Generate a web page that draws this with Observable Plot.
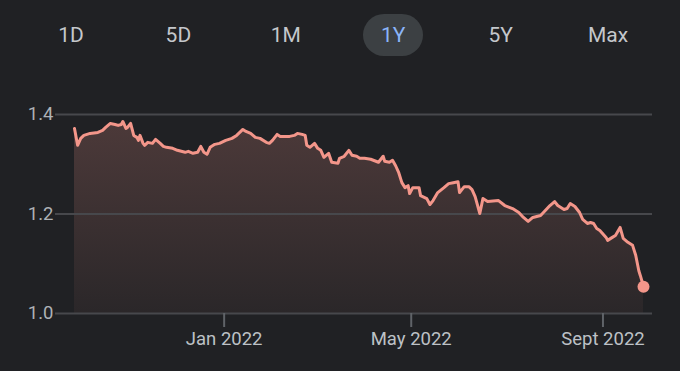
<!DOCTYPE html>
<html>
<head>
<meta charset="utf-8">
<script src="https://cdn.jsdelivr.net/npm/d3@7"></script>
<script src="https://cdn.jsdelivr.net/npm/@observablehq/plot@0.6"></script>
<style>
  html, body { margin: 0; padding: 0; background: #202124; }
  #wrap { position: relative; width: 680px; height: 371px; overflow: hidden; background: #202124; font-family: Roboto, "Noto Sans", sans-serif; }
  #buttons { position: absolute; left: 0; top: 0; width: 680px; height: 70px; z-index: 2; }
  .btn { position: absolute; top: 14px; height: 42px; width: 60px; line-height: 42px; text-align: center; font-size: 21px; color: #c4c7cb; border-radius: 21px; }
  .btn.sel { background: #3c4043; color: #8ab4f8; }
  #chart { position: absolute; left: 0; top: 0; }
</style>
</head>
<body>
<div id="wrap">
  <div id="buttons"></div>
  <div id="chart"></div>
</div>
<script>
const ranges = ["1D", "5D", "1M", "1Y", "5Y", "Max"];
const selectedRange = "1Y";

const dates = [
  "2021-09-27","2021-09-29","2021-10-01","2021-10-03","2021-10-07","2021-10-12","2021-10-15","2021-10-17",
  "2021-10-20","2021-10-23","2021-10-25","2021-10-27","2021-10-28","2021-10-30","2021-10-31","2021-11-02",
  "2021-11-04","2021-11-06","2021-11-07","2021-11-08","2021-11-10","2021-11-11","2021-11-13","2021-11-16",
  "2021-11-18","2021-11-21","2021-11-23","2021-11-25","2021-11-29","2021-12-02","2021-12-07","2021-12-09",
  "2021-12-12","2021-12-15","2021-12-17","2021-12-19","2021-12-21","2021-12-23","2021-12-26","2021-12-29",
  "2022-01-02","2022-01-06","2022-01-09","2022-01-13","2022-01-15","2022-01-18","2022-01-21","2022-01-24",
  "2022-01-28","2022-01-30","2022-02-01","2022-02-04","2022-02-06","2022-02-12","2022-02-15","2022-02-17",
  "2022-02-20","2022-02-22","2022-02-23","2022-02-25","2022-02-28","2022-03-02","2022-03-04","2022-03-06",
  "2022-03-09","2022-03-11","2022-03-15","2022-03-16","2022-03-19","2022-03-22","2022-03-24","2022-03-27",
  "2022-03-29","2022-04-01","2022-04-05","2022-04-10","2022-04-13","2022-04-14","2022-04-17","2022-04-19",
  "2022-04-21","2022-04-23","2022-04-25","2022-04-27","2022-04-29","2022-04-30","2022-05-02","2022-05-06",
  "2022-05-07","2022-05-11","2022-05-13","2022-05-15","2022-05-18","2022-05-22","2022-05-25","2022-05-28",
  "2022-05-31","2022-06-01","2022-06-04","2022-06-07","2022-06-09","2022-06-11","2022-06-14","2022-06-16",
  "2022-06-19","2022-06-26","2022-06-30","2022-07-05","2022-07-09","2022-07-12","2022-07-15","2022-07-18",
  "2022-07-23","2022-07-26","2022-07-29","2022-08-01","2022-08-03","2022-08-07","2022-08-09","2022-08-11",
  "2022-08-14","2022-08-17","2022-08-19","2022-08-22","2022-08-24","2022-08-26","2022-08-28","2022-08-30",
  "2022-09-03","2022-09-04","2022-09-07","2022-09-09","2022-09-12","2022-09-14","2022-09-17","2022-09-20",
  "2022-09-22","2022-09-24","2022-09-25","2022-09-27"
];
const values = [
  1.372,1.338,1.352,1.358,1.362,1.364,1.368,1.374,
  1.382,1.380,1.378,1.380,1.386,1.372,1.374,1.382,
  1.358,1.354,1.348,1.358,1.342,1.338,1.344,1.342,
  1.350,1.342,1.336,1.334,1.332,1.328,1.324,1.326,
  1.322,1.324,1.336,1.324,1.320,1.334,1.340,1.342,
  1.348,1.352,1.358,1.370,1.366,1.362,1.354,1.352,
  1.344,1.342,1.348,1.360,1.356,1.356,1.358,1.362,
  1.360,1.358,1.338,1.334,1.342,1.332,1.328,1.314,
  1.322,1.304,1.302,1.312,1.316,1.328,1.318,1.316,
  1.312,1.312,1.310,1.304,1.316,1.306,1.304,1.308,
  1.297,1.283,1.263,1.253,1.257,1.241,1.253,1.253,
  1.237,1.231,1.219,1.227,1.243,1.253,1.261,1.263,
  1.265,1.243,1.255,1.255,1.249,1.235,1.201,1.231,
  1.225,1.227,1.217,1.211,1.203,1.193,1.185,1.193,
  1.197,1.207,1.217,1.225,1.217,1.209,1.211,1.221,
  1.215,1.203,1.189,1.181,1.183,1.181,1.171,1.167,
  1.153,1.147,1.153,1.157,1.173,1.151,1.143,1.137,
  1.117,1.086,1.076,1.054
];
const yTicks = [1.0, 1.2, 1.4];
const xTicks = ["2022-01-01", "2022-05-01", "2022-09-01"];
const xTickLabels = ["Jan 2022", "May 2022", "Sept 2022"];

// buttons
const btnBox = document.getElementById("buttons");
ranges.forEach((r, i) => {
  const el = document.createElement("div");
  el.className = "btn" + (r === selectedRange ? " sel" : "");
  el.textContent = r;
  el.style.left = (71 + i * 107.4 - 30) + "px";
  btnBox.appendChild(el);
});

const data = dates.map((d, i) => ({date: new Date(d), value: values[i]}));
const last = data[data.length - 1];
const lineColor = "#f3968a";

const defs = () => {
  const g = d3.create("svg:defs");
  const lg = g.append("linearGradient").attr("id", "areaGrad").attr("x1", 0).attr("y1", 0).attr("x2", 0).attr("y2", 1);
  lg.append("stop").attr("offset", "0%").attr("stop-color", lineColor).attr("stop-opacity", 0.21);
  lg.append("stop").attr("offset", "100%").attr("stop-color", lineColor).attr("stop-opacity", 0.05);
  return g.node();
};

const chart = Plot.plot({
  width: 680,
  height: 371,
  marginTop: 114,
  marginBottom: 58,
  marginLeft: 74,
  marginRight: 37,
  style: {background: "transparent", fontFamily: "Roboto, sans-serif", fontSize: "18.5px"},
  x: {type: "utc", domain: [data[0].date, last.date]},
  y: {domain: [1.0, 1.4]},
  marks: [
    defs,
    Plot.areaY(data, {x: "date", y1: 1.0, y2: "value", fill: "url(#areaGrad)"}),
    Plot.ruleY(yTicks, {stroke: "#47484c", strokeWidth: 2, insetLeft: -19, insetRight: -9}),
    Plot.line(data, {x: "date", y: "value", stroke: lineColor, strokeWidth: 3, strokeLinejoin: "round"}),
    Plot.dot([last], {x: "date", y: "value", r: 6, fill: lineColor, stroke: "none"}),
    Plot.axisY(yTicks, {tickSize: 0, tickPadding: 21, tickFormat: d3.format(".1f"), fill: "#aeb2b6", fontSize: 18.5, label: null}),
    Plot.axisX(xTicks.map(d => new Date(d)), {tickSize: 14, tickPadding: 4, stroke: "#5f6368", strokeWidth: 2, fill: "#bdc1c6", fontSize: 18.5, tickFormat: (d, i) => xTickLabels[i], label: null})
  ]
});
document.getElementById("chart").appendChild(chart);
</script>
</body>
</html>
